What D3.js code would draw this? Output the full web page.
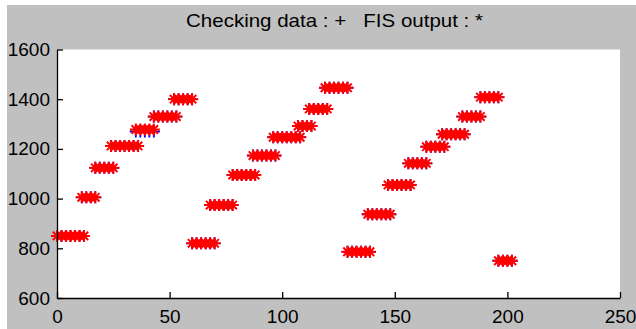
<!DOCTYPE html>
<html>
<head>
<meta charset="utf-8">
<script src="https://cdn.jsdelivr.net/npm/d3@7"></script>
<style>
	html, body { margin: 0; padding: 0; background: #fff; }
	svg { display: block; }
	text { font-family: "Liberation Sans", Arial, sans-serif; fill: #000; }
</style>
</head>
<body>
<div id="chart"></div>
<script>
"use strict";

// x positions of each group of samples (step-like data)
var aGroupX = [
	[0, 2, 4, 6, 8, 10, 12],
	[11, 13, 15, 17],
	[17, 19, 21, 23, 25],
	[24, 26, 28, 30, 32, 34, 36],
	[35, 37, 39, 41, 43],
	[43, 45, 47, 49, 51, 53],
	[52, 54, 56, 58, 60],
	[60, 62, 64, 66, 68, 70],
	[68, 70, 72, 74, 76, 78],
	[78, 80, 82, 84, 86, 88],
	[87, 89, 91, 93, 95, 97],
	[96, 98, 100, 102, 104, 106, 108],
	[107, 109, 111, 113],
	[112, 114, 116, 118, 120],
	[119, 121, 123, 125, 127, 129],
	[129, 131, 133, 135, 137, 139],
	[138, 140, 142, 144, 146, 148],
	[147, 149, 151, 153, 155, 157],
	[156, 158, 160, 162, 164],
	[164, 166, 168, 170, 172],
	[171, 173, 175, 177, 179, 181],
	[180, 182, 184, 186, 188],
	[188, 190, 192, 194, 196],
	[196, 198, 200, 202]
];

// checking data value of each group
var aCheckY = [850, 1005, 1124, 1212, 1270, 1330, 1400, 820, 974, 1095, 1173, 1247,
	1292, 1361, 1446, 786, 937, 1055, 1142, 1209, 1259, 1330, 1408, 750];

// FIS output value of each group
var aFisY = [850, 1005, 1124, 1212, 1278, 1330, 1400, 820, 974, 1095, 1173, 1247,
	1292, 1361, 1446, 786, 937, 1055, 1142, 1209, 1259, 1330, 1408, 750];

var aXTicks = [0, 50, 100, 150, 200, 250];
var aYTicks = [600, 800, 1000, 1200, 1400, 1600];

var iW = 636, iH = 329;
var oPlot = { left: 57, right: 620, top: 49.5, bottom: 298 };

var svg = d3.select("#chart").append("svg")
	.attr("width", iW)
	.attr("height", iH);

svg.append("rect")
	.attr("x", 7).attr("y", 5)
	.attr("width", iW - 7).attr("height", iH - 5)
	.attr("fill", "#c0c0c0");

svg.append("rect")
	.attr("x", oPlot.left).attr("y", oPlot.top)
	.attr("width", oPlot.right - oPlot.left)
	.attr("height", oPlot.bottom - oPlot.top)
	.attr("fill", "#fff");

var x = d3.scaleLinear().domain([0, 250]).range([oPlot.left, oPlot.right]);
var y = d3.scaleLinear().domain([600, 1600]).range([oPlot.bottom, oPlot.top]);

// flatten groups into points
var aCheck = [], aFis = [];
aGroupX.forEach(function (aXs, i) {
	aXs.forEach(function (v) {
		aCheck.push({ x: v, y: aCheckY[i] });
		aFis.push({ x: v, y: aFisY[i] });
	});
});

var sPlus = "M-6,0H6M0,-6V6";
var sStar = sPlus + "M-4.2,-4.2L4.2,4.2M-4.2,4.2L4.2,-4.2";

svg.append("g").selectAll("path").data(aCheck).enter().append("path")
	.attr("d", sPlus)
	.attr("transform", function (d) { return "translate(" + x(d.x) + "," + y(d.y) + ")"; })
	.attr("stroke", "#0000ff")
	.attr("stroke-width", 1.8)
	.attr("fill", "none");

svg.append("g").selectAll("path").data(aFis).enter().append("path")
	.attr("d", sStar)
	.attr("transform", function (d) { return "translate(" + x(d.x) + "," + y(d.y) + ")"; })
	.attr("stroke", "#ff0000")
	.attr("stroke-width", 2)
	.attr("fill", "none");

// axes, ticks pointing inward like MATLAB
var gX = svg.append("g")
	.attr("transform", "translate(0," + oPlot.bottom + ")")
	.call(d3.axisBottom(x).tickValues(aXTicks).tickFormat(d3.format("d"))
		.tickSizeInner(-6).tickSizeOuter(0).tickPadding(12));

var gY = svg.append("g")
	.attr("transform", "translate(" + oPlot.left + ",0)")
	.call(d3.axisLeft(y).tickValues(aYTicks).tickFormat(d3.format("d"))
		.tickSizeInner(-6).tickSizeOuter(0).tickPadding(7));

[gX, gY].forEach(function (g) {
	g.select(".domain").attr("stroke", "#000").attr("stroke-width", 1.3);
	g.selectAll(".tick line").attr("stroke", "#000").attr("stroke-width", 1.3);
	g.selectAll(".tick text")
		.attr("font-size", 19)
		.attr("font-family", "Liberation Sans, Arial, sans-serif")
		.attr("fill", "#000");
});

svg.append("text")
	.attr("x", 334.5)
	.attr("y", 27)
	.attr("text-anchor", "middle")
	.attr("font-size", 18.5)
	.attr("textLength", 297)
	.attr("lengthAdjust", "spacingAndGlyphs")
	.style("white-space", "pre")
	.text("Checking data : +   FIS output : *");
</script>
</body>
</html>
